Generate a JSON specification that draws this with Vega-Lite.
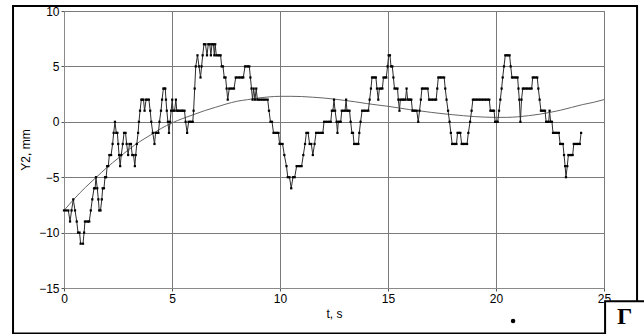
{
 "$schema": "https://vega.github.io/schema/vega-lite/v6.json",
 "width": 540, "height": 277,
 "autosize": "none",
 "padding": {"left": 64, "top": 11, "right": 40, "bottom": 46},
 "background": "white",
 "config": {
  "view": {"stroke": "#8a8a8a", "strokeWidth": 1},
  "axis": {"labelFont": "Liberation Sans", "titleFont": "Liberation Sans", "labelFontSize": 12, "titleFontSize": 12, "labelColor": "black", "titleColor": "black", "titleFontWeight": "normal", "gridColor": "#7a7a7a", "gridOpacity": 1, "gridWidth": 1, "domainColor": "#8a8a8a", "tickColor": "#555555", "tickSize": 3, "labelFlush": false, "labelOverlap": false}
 },
 "datasets": {
  "series": [
   {"t":0,"v":-8},{"t":0.1,"v":-8},{"t":0.2,"v":-8},{"t":0.28,"v":-9},{"t":0.35,"v":-8},{"t":0.43,"v":-7},{"t":0.51,"v":-8},{"t":0.59,"v":-9},{"t":0.65,"v":-10},{"t":0.72,"v":-10},{"t":0.77,"v":-11},{"t":0.88,"v":-11},{"t":0.93,"v":-10},{"t":0.97,"v":-9},{"t":1.04,"v":-9},{"t":1.11,"v":-9},{"t":1.17,"v":-9},{"t":1.24,"v":-8},{"t":1.31,"v":-7},{"t":1.39,"v":-6},{"t":1.44,"v":-6},{"t":1.48,"v":-5},{"t":1.54,"v":-6},{"t":1.59,"v":-7},{"t":1.63,"v":-8},{"t":1.69,"v":-8},{"t":1.75,"v":-7},{"t":1.79,"v":-6},{"t":1.85,"v":-6},{"t":1.9,"v":-5},{"t":1.95,"v":-5},{"t":2.0,"v":-4},{"t":2.05,"v":-4},{"t":2.1,"v":-3},{"t":2.18,"v":-3},{"t":2.25,"v":-2},{"t":2.3,"v":-1},{"t":2.36,"v":0},{"t":2.42,"v":-1},{"t":2.47,"v":-1},{"t":2.51,"v":-2},{"t":2.55,"v":-3},{"t":2.6,"v":-4},{"t":2.65,"v":-3},{"t":2.72,"v":-2},{"t":2.78,"v":-1},{"t":2.85,"v":-1},{"t":2.9,"v":-2},{"t":2.97,"v":-3},{"t":3.03,"v":-2},{"t":3.1,"v":-2},{"t":3.16,"v":-3},{"t":3.22,"v":-3},{"t":3.28,"v":-4},{"t":3.32,"v":-3},{"t":3.37,"v":-2},{"t":3.43,"v":-1},{"t":3.47,"v":0},{"t":3.52,"v":1},{"t":3.58,"v":2},{"t":3.63,"v":2},{"t":3.68,"v":2},{"t":3.73,"v":1},{"t":3.8,"v":2},{"t":3.86,"v":2},{"t":3.93,"v":2},{"t":3.99,"v":1},{"t":4.04,"v":0},{"t":4.11,"v":-1},{"t":4.19,"v":-2},{"t":4.24,"v":-1},{"t":4.3,"v":-1},{"t":4.37,"v":-1},{"t":4.42,"v":0},{"t":4.49,"v":1},{"t":4.54,"v":2},{"t":4.6,"v":3},{"t":4.65,"v":3},{"t":4.69,"v":3},{"t":4.72,"v":2},{"t":4.76,"v":1},{"t":4.81,"v":0},{"t":4.86,"v":-1},{"t":4.91,"v":0},{"t":4.96,"v":1},{"t":5.01,"v":2},{"t":5.05,"v":1},{"t":5.12,"v":1},{"t":5.18,"v":2},{"t":5.22,"v":1},{"t":5.28,"v":1},{"t":5.34,"v":1},{"t":5.4,"v":1},{"t":5.46,"v":1},{"t":5.52,"v":1},{"t":5.58,"v":1},{"t":5.63,"v":0},{"t":5.7,"v":-1},{"t":5.77,"v":0},{"t":5.83,"v":0},{"t":5.9,"v":0},{"t":5.96,"v":0},{"t":6.0,"v":1},{"t":6.05,"v":3},{"t":6.1,"v":5},{"t":6.18,"v":6},{"t":6.25,"v":5},{"t":6.32,"v":4},{"t":6.37,"v":5},{"t":6.42,"v":6},{"t":6.48,"v":7},{"t":6.55,"v":7},{"t":6.62,"v":6},{"t":6.68,"v":7},{"t":6.75,"v":7},{"t":6.8,"v":6},{"t":6.85,"v":7},{"t":6.92,"v":7},{"t":6.96,"v":6},{"t":7.0,"v":7},{"t":7.05,"v":6},{"t":7.12,"v":6},{"t":7.19,"v":6},{"t":7.25,"v":6},{"t":7.3,"v":5},{"t":7.36,"v":5},{"t":7.42,"v":4},{"t":7.48,"v":4},{"t":7.53,"v":3},{"t":7.58,"v":2},{"t":7.65,"v":3},{"t":7.72,"v":3},{"t":7.8,"v":3},{"t":7.87,"v":3},{"t":7.95,"v":4},{"t":8.02,"v":4},{"t":8.1,"v":4},{"t":8.17,"v":4},{"t":8.24,"v":4},{"t":8.3,"v":4},{"t":8.38,"v":5},{"t":8.45,"v":5},{"t":8.52,"v":5},{"t":8.58,"v":5},{"t":8.63,"v":4},{"t":8.68,"v":3},{"t":8.73,"v":2},{"t":8.78,"v":3},{"t":8.84,"v":2},{"t":8.9,"v":3},{"t":8.95,"v":2},{"t":9.02,"v":2},{"t":9.1,"v":2},{"t":9.18,"v":2},{"t":9.26,"v":2},{"t":9.34,"v":2},{"t":9.43,"v":2},{"t":9.49,"v":1},{"t":9.56,"v":0},{"t":9.63,"v":0},{"t":9.7,"v":-1},{"t":9.78,"v":-1},{"t":9.86,"v":-1},{"t":9.93,"v":-1},{"t":9.98,"v":-2},{"t":10.05,"v":-2},{"t":10.12,"v":-2},{"t":10.2,"v":-3},{"t":10.3,"v":-4},{"t":10.36,"v":-5},{"t":10.44,"v":-5},{"t":10.52,"v":-6},{"t":10.6,"v":-5},{"t":10.68,"v":-5},{"t":10.77,"v":-4},{"t":10.85,"v":-4},{"t":10.93,"v":-4},{"t":11.0,"v":-4},{"t":11.08,"v":-3},{"t":11.16,"v":-2},{"t":11.22,"v":-1},{"t":11.3,"v":-1},{"t":11.37,"v":-2},{"t":11.45,"v":-2},{"t":11.52,"v":-3},{"t":11.6,"v":-2},{"t":11.67,"v":-1},{"t":11.75,"v":-1},{"t":11.83,"v":-1},{"t":11.91,"v":-1},{"t":11.98,"v":-1},{"t":12.04,"v":0},{"t":12.12,"v":0},{"t":12.2,"v":0},{"t":12.28,"v":0},{"t":12.35,"v":0},{"t":12.4,"v":1},{"t":12.45,"v":1},{"t":12.5,"v":2},{"t":12.55,"v":1},{"t":12.62,"v":0},{"t":12.66,"v":-1},{"t":12.7,"v":0},{"t":12.76,"v":0},{"t":12.81,"v":0},{"t":12.86,"v":1},{"t":12.93,"v":1},{"t":13.01,"v":1},{"t":13.06,"v":2},{"t":13.1,"v":1},{"t":13.16,"v":1},{"t":13.22,"v":1},{"t":13.27,"v":0},{"t":13.33,"v":-1},{"t":13.38,"v":-1},{"t":13.43,"v":-2},{"t":13.5,"v":-2},{"t":13.57,"v":-2},{"t":13.63,"v":-2},{"t":13.67,"v":-1},{"t":13.73,"v":0},{"t":13.8,"v":1},{"t":13.87,"v":1},{"t":13.94,"v":1},{"t":14.02,"v":1},{"t":14.09,"v":1},{"t":14.15,"v":2},{"t":14.21,"v":3},{"t":14.26,"v":4},{"t":14.32,"v":4},{"t":14.38,"v":4},{"t":14.44,"v":4},{"t":14.49,"v":3},{"t":14.55,"v":2},{"t":14.6,"v":3},{"t":14.67,"v":3},{"t":14.74,"v":3},{"t":14.79,"v":4},{"t":14.86,"v":4},{"t":14.92,"v":4},{"t":14.98,"v":5},{"t":15.03,"v":6},{"t":15.09,"v":6},{"t":15.14,"v":5},{"t":15.2,"v":5},{"t":15.25,"v":4},{"t":15.3,"v":3},{"t":15.37,"v":3},{"t":15.44,"v":3},{"t":15.48,"v":2},{"t":15.53,"v":1},{"t":15.57,"v":2},{"t":15.63,"v":2},{"t":15.69,"v":2},{"t":15.75,"v":2},{"t":15.81,"v":2},{"t":15.86,"v":3},{"t":15.91,"v":2},{"t":15.97,"v":2},{"t":16.03,"v":2},{"t":16.08,"v":2},{"t":16.13,"v":1},{"t":16.19,"v":1},{"t":16.26,"v":1},{"t":16.33,"v":1},{"t":16.4,"v":0},{"t":16.46,"v":1},{"t":16.52,"v":2},{"t":16.57,"v":3},{"t":16.63,"v":3},{"t":16.7,"v":3},{"t":16.77,"v":3},{"t":16.84,"v":3},{"t":16.9,"v":2},{"t":16.96,"v":2},{"t":17.03,"v":2},{"t":17.1,"v":2},{"t":17.17,"v":2},{"t":17.23,"v":2},{"t":17.28,"v":3},{"t":17.33,"v":4},{"t":17.39,"v":4},{"t":17.46,"v":4},{"t":17.53,"v":4},{"t":17.6,"v":4},{"t":17.65,"v":3},{"t":17.71,"v":2},{"t":17.78,"v":1},{"t":17.85,"v":0},{"t":17.91,"v":-1},{"t":17.97,"v":-2},{"t":18.03,"v":-2},{"t":18.1,"v":-2},{"t":18.17,"v":-2},{"t":18.22,"v":-1},{"t":18.28,"v":-1},{"t":18.35,"v":-1},{"t":18.41,"v":-2},{"t":18.47,"v":-2},{"t":18.53,"v":-2},{"t":18.6,"v":-2},{"t":18.66,"v":-2},{"t":18.72,"v":-1},{"t":18.8,"v":0},{"t":18.87,"v":1},{"t":18.93,"v":2},{"t":18.99,"v":2},{"t":19.06,"v":2},{"t":19.13,"v":2},{"t":19.2,"v":2},{"t":19.27,"v":2},{"t":19.34,"v":2},{"t":19.41,"v":2},{"t":19.48,"v":2},{"t":19.55,"v":2},{"t":19.62,"v":2},{"t":19.69,"v":2},{"t":19.74,"v":1},{"t":19.8,"v":1},{"t":19.86,"v":1},{"t":19.91,"v":1},{"t":19.96,"v":0},{"t":20.02,"v":0},{"t":20.08,"v":0},{"t":20.14,"v":1},{"t":20.2,"v":2},{"t":20.26,"v":3},{"t":20.31,"v":4},{"t":20.37,"v":5},{"t":20.43,"v":6},{"t":20.5,"v":6},{"t":20.57,"v":6},{"t":20.63,"v":6},{"t":20.68,"v":5},{"t":20.74,"v":4},{"t":20.8,"v":4},{"t":20.87,"v":4},{"t":20.94,"v":4},{"t":21.0,"v":4},{"t":21.04,"v":3},{"t":21.08,"v":2},{"t":21.13,"v":0},{"t":21.18,"v":2},{"t":21.24,"v":3},{"t":21.3,"v":3},{"t":21.37,"v":3},{"t":21.44,"v":3},{"t":21.51,"v":3},{"t":21.58,"v":3},{"t":21.65,"v":3},{"t":21.7,"v":4},{"t":21.77,"v":4},{"t":21.84,"v":4},{"t":21.91,"v":4},{"t":21.96,"v":3},{"t":22.02,"v":2},{"t":22.08,"v":1},{"t":22.14,"v":1},{"t":22.2,"v":1},{"t":22.27,"v":1},{"t":22.32,"v":0},{"t":22.38,"v":0},{"t":22.44,"v":0},{"t":22.48,"v":1},{"t":22.53,"v":0},{"t":22.59,"v":0},{"t":22.64,"v":-1},{"t":22.7,"v":-1},{"t":22.77,"v":-1},{"t":22.84,"v":-1},{"t":22.91,"v":-1},{"t":22.97,"v":-2},{"t":23.03,"v":-2},{"t":23.1,"v":-2},{"t":23.15,"v":-3},{"t":23.2,"v":-4},{"t":23.24,"v":-5},{"t":23.3,"v":-4},{"t":23.35,"v":-3},{"t":23.41,"v":-3},{"t":23.48,"v":-3},{"t":23.55,"v":-3},{"t":23.6,"v":-2},{"t":23.67,"v":-2},{"t":23.74,"v":-2},{"t":23.81,"v":-2},{"t":23.88,"v":-2},{"t":23.94,"v":-1}
  ],
  "fit": [
   {"t":0,"v":-8.0},{"t":0.5,"v":-6.9},{"t":1,"v":-5.9},{"t":1.5,"v":-5.0},{"t":2,"v":-4.1},{"t":2.5,"v":-3.3},{"t":3,"v":-2.5},{"t":3.5,"v":-1.8},{"t":4,"v":-1.2},{"t":4.5,"v":-0.6},{"t":5,"v":-0.1},{"t":5.5,"v":0.3},{"t":6,"v":0.65},{"t":6.5,"v":1.0},{"t":7,"v":1.3},{"t":7.5,"v":1.6},{"t":8,"v":1.85},{"t":8.5,"v":2.0},{"t":9,"v":2.15},{"t":9.5,"v":2.25},{"t":10,"v":2.3},{"t":10.5,"v":2.3},{"t":11,"v":2.28},{"t":11.5,"v":2.22},{"t":12,"v":2.15},{"t":12.5,"v":2.05},{"t":13,"v":1.93},{"t":13.5,"v":1.8},{"t":14,"v":1.65},{"t":14.5,"v":1.52},{"t":15,"v":1.4},{"t":15.5,"v":1.25},{"t":16,"v":1.1},{"t":16.5,"v":0.98},{"t":17,"v":0.85},{"t":17.5,"v":0.74},{"t":18,"v":0.64},{"t":18.5,"v":0.55},{"t":19,"v":0.47},{"t":19.5,"v":0.42},{"t":20,"v":0.4},{"t":20.5,"v":0.4},{"t":21,"v":0.45},{"t":21.5,"v":0.55},{"t":22,"v":0.68},{"t":22.5,"v":0.85},{"t":23,"v":1.05},{"t":23.5,"v":1.3},{"t":24,"v":1.55},{"t":24.5,"v":1.75},{"t":25,"v":2.0}
  ]
 },
 "layer": [
  {
   "data": {"name": "fit"},
   "mark": {"type": "line", "interpolate": "monotone", "color": "#666666", "strokeWidth": 1},
   "encoding": {
    "x": {"field": "t", "type": "quantitative", "scale": {"domain": [0, 25], "nice": false, "zero": false}, "axis": {"values": [0, 5, 10, 15, 20, 25], "title": "t, s", "grid": true, "titlePadding": 4}},
    "y": {"field": "v", "type": "quantitative", "scale": {"domain": [-15, 10], "nice": false, "zero": false}, "axis": {"values": [-15, -10, -5, 0, 5, 10], "title": "Y2, mm", "grid": true, "titlePadding": 6}}
   }
  },
  {
   "data": {"name": "series"},
   "mark": {"type": "line", "color": "#2a2a2a", "strokeWidth": 1},
   "encoding": {"x": {"field": "t", "type": "quantitative"}, "y": {"field": "v", "type": "quantitative"}}
  },
  {
   "data": {"name": "series"},
   "mark": {"type": "point", "shape": "square", "filled": true, "size": 5, "color": "black", "opacity": 1},
   "encoding": {"x": {"field": "t", "type": "quantitative"}, "y": {"field": "v", "type": "quantitative"}}
  },
  {
   "data": {"values": [{}]},
   "mark": {"type": "rect", "filled": false, "stroke": "black", "strokeWidth": 2},
   "encoding": {"x": {"datum": -2.36}, "x2": {"datum": 26.53}, "y": {"datum": 10.45}, "y2": {"datum": -19.1}}
  },
  {
   "data": {"values": [{}]},
   "mark": {"type": "rect", "fill": "white", "stroke": "black", "strokeWidth": 2},
   "encoding": {"x": {"datum": 25.05}, "x2": {"datum": 27.2}, "y": {"datum": -16.2}, "y2": {"datum": -19.5}}
  },
  {
   "data": {"values": [{"label": "Г"}]},
   "mark": {"type": "text", "font": "Liberation Serif", "fontWeight": "bold", "fontSize": 24, "align": "center", "baseline": "middle", "color": "black"},
   "encoding": {"x": {"datum": 25.95}, "y": {"datum": -17.6}, "text": {"field": "label"}}
  },
  {
   "data": {"values": [{}]},
   "mark": {"type": "point", "shape": "circle", "filled": true, "size": 20, "color": "black", "opacity": 1},
   "encoding": {"x": {"datum": 20.79}, "y": {"datum": -17.98}}
  }
 ]
}
